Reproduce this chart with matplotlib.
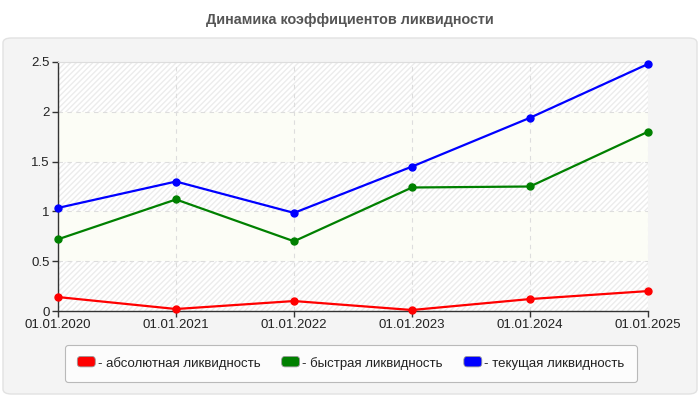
import matplotlib
matplotlib.use("Agg")
import matplotlib.pyplot as plt
from matplotlib.patches import FancyBboxPatch, Patch
from matplotlib.legend_handler import HandlerPatch

plt.rcParams['font.family'] = ['Liberation Sans', 'DejaVu Sans']

dates = ["01.01.2020", "01.01.2021", "01.01.2022", "01.01.2023", "01.01.2024", "01.01.2025"]
absolute = [0.14, 0.02, 0.10, 0.01, 0.12, 0.20]
quick = [0.72, 1.12, 0.70, 1.24, 1.25, 1.80]
current = [1.035, 1.30, 0.985, 1.45, 1.94, 2.48]
series_names = ["- абсолютная ликвидность", "- быстрая ликвидность", "- текущая ликвидность"]
series_colors = ["#ff0000", "#008000", "#0000ff"]
yticks = [0, 0.5, 1, 1.5, 2, 2.5]
title = "Динамика коэффициентов ликвидности"

fig = plt.figure(figsize=(7, 4), dpi=100)
fig.patch.set_facecolor("white")

panel = FancyBboxPatch((3/700, 6/400), 694/700, 356/400,
                       boxstyle="round,pad=0,rounding_size=0.012",
                       transform=fig.transFigure, facecolor="#f4f4f4",
                       edgecolor="#e2e2e2", linewidth=1, zorder=-5)
fig.patches.append(panel)

fig.text(0.5, 1 - 20/400, title, ha="center", va="center",
         fontsize=10.4, fontweight="bold", color="#555555")

ax = fig.add_axes([58/700, 1 - 311/400, 590/700, 249/400])
ax.set_zorder(1)
ax.set_facecolor("white")
x = list(range(len(dates)))
ax.set_xlim(0, len(dates) - 1)
ax.set_ylim(0, 2.5)

# alternating bands
for i in range(len(yticks) - 1):
    lo, hi = yticks[i], yticks[i + 1]
    if i % 2 == 1:
        ax.axhspan(lo, hi, facecolor="#fcfdf6", edgecolor="none", zorder=0)
    else:
        ax.axhspan(lo, hi, facecolor="white", edgecolor="#ececec",
                   hatch="//////", linewidth=0, zorder=0)

ax.grid(True, color="#dddddd", linestyle=(0, (4, 4)), linewidth=0.8, zorder=1)

for vals, col, name in zip([absolute, quick, current], series_colors, series_names):
    ax.plot(x, vals, color=col, linewidth=1.6, marker="o", markersize=5,
            zorder=3, label=name, clip_on=False)

ax.set_xticks(x)
ax.set_xticklabels(dates)
ax.set_yticks(yticks)
ax.set_yticklabels(["0", "0.5", "1", "1.5", "2", "2.5"])
ax.tick_params(axis="both", labelsize=9.5, colors="#333333", length=4, width=1, pad=2)
ax.tick_params(axis="x", labelcolor="#222222")
ax.tick_params(axis="y", labelcolor="#222222")
for s in ["left", "bottom"]:
    ax.spines[s].set_color("#333333")
    ax.spines[s].set_linewidth(1)
ax.spines["top"].set_color("#dddddd")
ax.spines["right"].set_visible(False)


class RoundHandler(HandlerPatch):
    def create_artists(self, legend, orig_handle, xdescent, ydescent, width, height, fontsize, trans):
        h = 7.5
        p = FancyBboxPatch((-xdescent, -ydescent + (height - h) / 2 + 0.5), width, h,
                           boxstyle="round,pad=0,rounding_size=2.5",
                           facecolor=orig_handle.get_facecolor(), edgecolor="#999999",
                           linewidth=0.6, transform=trans)
        return [p]


handles = [Patch(facecolor=c, label=n) for c, n in zip(series_colors, series_names)]
leg = fig.legend(handles=handles, loc="center", ncol=3,
                 bbox_to_anchor=(351/700, 1 - 363.5/400),
                 fontsize=9.5, frameon=True, fancybox=True,
                 handlelength=1.36, handleheight=0.7, handletextpad=0.2,
                 columnspacing=1.6, borderpad=0.9,
                 handler_map={Patch: RoundHandler()})
leg.get_frame().set_edgecolor("#aaaaaa")
leg.get_frame().set_facecolor("white")
leg.get_frame().set_linewidth(0.8)
for t in leg.get_texts():
    t.set_color("#222222")

fig.savefig("out.png", dpi=100)
